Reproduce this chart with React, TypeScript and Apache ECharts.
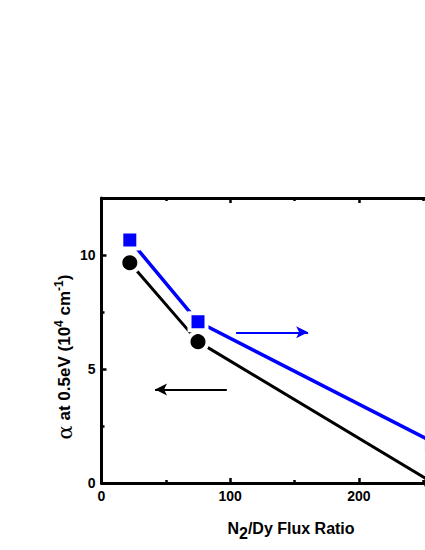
import React, { useEffect, useRef } from "react";
import * as echarts from "echarts";

const fluxRatio = [22, 75, 258];
const alphaLeft = [9.66, 6.2, 0];
const alphaRight = [10.66, 7.07, 1.78];
const xTicks = { min: 0, max: 300, interval: 100 };
const yTicks = { min: 0, max: 12.5, interval: 5 };
const leftArrow = [[97.4, 4.1], [41.6, 4.1]];
const rightArrow = [[104.6, 6.61], [160.6, 6.61]];

const FONT = "Liberation Sans, Arial, sans-serif";

export default function App() {
  const ref = useRef<HTMLDivElement>(null);
  useEffect(() => {
    if (!ref.current) return;
    const chart = echarts.init(ref.current, undefined, { renderer: "svg" });
    const axisLine = { show: true, onZero: false, lineStyle: { color: "#000", width: 3 } };
    const axisTick = { show: true, inside: true, length: 5, lineStyle: { color: "#000", width: 2.5 } };
    const minorTick = { show: true, splitNumber: 2, length: 3, lineStyle: { color: "#000", width: 2.5 } };
    const label = { color: "#000", fontWeight: "bold", fontSize: 14, fontFamily: FONT, margin: 6 };
    const mk = (data: number[]) =>
      data.map((v, i) =>
        i === data.length - 1
          ? { value: [fluxRatio[i], v], itemStyle: { borderWidth: 0 } }
          : { value: [fluxRatio[i], v] }
      );
    chart.setOption({
      animation: false,
      grid: { left: 101.5, top: 198, width: 386, height: 285, containLabel: false, outerBoundsMode: "none" },
      xAxis: [
        {
          type: "value", position: "bottom", ...xTicks,
          axisLine, axisTick, minorTick, splitLine: { show: false },
          axisLabel: { ...label, showMaxLabel: false },
        },
        {
          type: "value", position: "top", ...xTicks,
          axisLine, axisTick, minorTick, splitLine: { show: false },
          axisLabel: { show: false },
        },
      ],
      yAxis: [
        {
          type: "value", position: "left", ...yTicks,
          axisLine, axisTick, minorTick, splitLine: { show: false },
          axisLabel: { ...label, showMaxLabel: false },
        },
        {
          type: "value", position: "right", ...yTicks,
          axisLine, axisTick, minorTick, splitLine: { show: false },
          axisLabel: { show: false },
        },
      ],
      series: [
        {
          type: "line",
          xAxisIndex: 0,
          yAxisIndex: 0,
          data: mk(alphaLeft),
          symbol: "circle",
          symbolSize: 19,
          lineStyle: { color: "#000", width: 3 },
          itemStyle: { color: "#000", borderColor: "#fff", borderWidth: 4 },
          z: 3,
          markLine: {
            silent: true,
            symbol: ["none", "arrow"],
            symbolSize: [9, 12],
            label: { show: false },
            lineStyle: { color: "#000", width: 2, type: "solid" },
            data: [[{ coord: leftArrow[0] }, { coord: leftArrow[1] }]],
          },
        },
        {
          type: "line",
          xAxisIndex: 0,
          yAxisIndex: 1,
          data: mk(alphaRight),
          symbol: "rect",
          symbolSize: 17,
          lineStyle: { color: "#0000ff", width: 3.5 },
          itemStyle: { color: "#0000ff", borderColor: "#fff", borderWidth: 4 },
          z: 3,
          markLine: {
            silent: true,
            symbol: ["none", "arrow"],
            symbolSize: [9, 12],
            label: { show: false },
            lineStyle: { color: "#0000ff", width: 2, type: "solid" },
            data: [[{ coord: rightArrow[0] }, { coord: rightArrow[1] }]],
          },
        },
      ],
      graphic: [
        {
          type: "text",
          x: 64,
          y: 357,
          rotation: Math.PI / 2,
          style: {
            text: "{a|α} at 0.5eV (10{s|4} cm{s|-1})",
            fontFamily: FONT,
            fontWeight: "bold",
            fontSize: 17,
            fill: "#000",
            align: "center",
            verticalAlign: "middle",
            rich: {
              a: { fontFamily: "DejaVu Serif, serif", fontSize: 21, fontWeight: "normal", lineHeight: 23, verticalAlign: "bottom" },
              s: { fontFamily: FONT, fontSize: 12, fontWeight: "bold", lineHeight: 23, verticalAlign: "top" },
            },
          },
        },
        {
          type: "text",
          x: 291,
          y: 528,
          style: {
            text: "N{b|2}/Dy Flux Ratio",
            fontFamily: FONT,
            fontWeight: "bold",
            fontSize: 16,
            fill: "#000",
            align: "center",
            verticalAlign: "middle",
            rich: {
              b: { fontFamily: FONT, fontSize: 16, fontWeight: "bold", lineHeight: 26, verticalAlign: "bottom" },
            },
          },
        },
      ],
    });
    return () => chart.dispose();
  }, []);
  return (
    <div style={{ position: "fixed", left: 0, top: 0, width: 425, height: 550, overflow: "hidden", background: "#fff" }}>
      <div ref={ref} style={{ width: 520, height: 550 }} />
    </div>
  );
}
